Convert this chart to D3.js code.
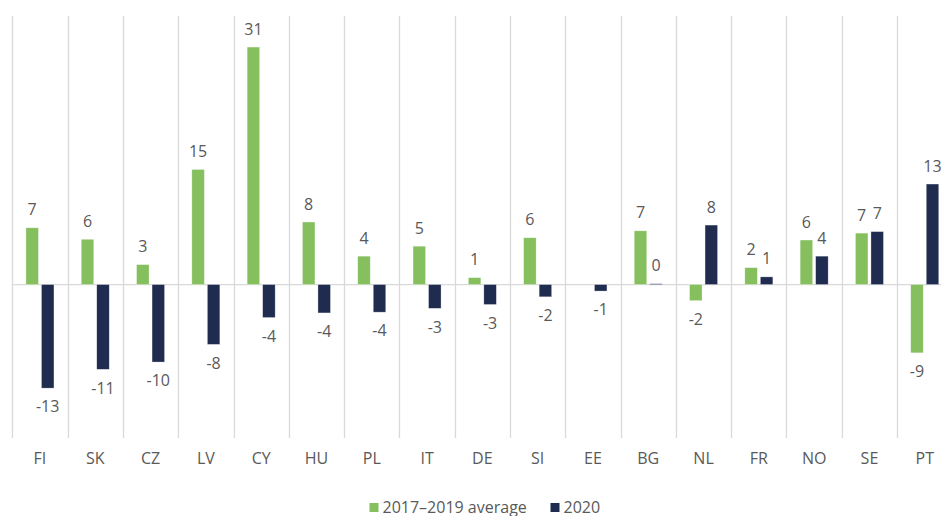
<!DOCTYPE html>
<html>
<head>
<meta charset="utf-8">
<script src="https://cdn.jsdelivr.net/npm/d3@7"></script>
<style>
  body { margin: 0; background: #fff; }
  text { font-family: "Open Sans", "Noto Sans", sans-serif; fill: #595959; }
</style>
</head>
<body>
<script>
const width = 941;
const height = 516;

const countries = ['FI', 'SK', 'CZ', 'LV', 'CY', 'HU', 'PL', 'IT', 'DE', 'SI', 'EE', 'BG', 'NL', 'FR', 'NO', 'SE', 'PT'];
const avg = [7.4, 5.9, 2.6, 15.0, 30.95, 8.15, 3.7, 5.0, 0.9, 6.1, null, 7.0, -2.1, 2.2, 5.8, 6.7, -8.9];
const y2020 = [-13.5, -11.05, -10.1, -7.8, -4.3, -3.7, -3.6, -3.1, -2.6, -1.6, -0.85, 0.1, 7.75, 1.0, 3.7, 6.9, 13.1];
const seriesNames = ['2017\u20132019 average', '2020'];
const colors = ['#85bf5e', '#1f2c50'];

const svg = d3.select('body')
  .append('svg')
  .attr('width', width)
  .attr('height', height);

const x = d3.scaleBand()
  .domain(countries)
  .range([12.3, 12.3 + 17 * 55.3]);

const x1 = d3.scaleBand()
  .domain([0, 1])
  .range([0, x.bandwidth()])
  .paddingInner(0.194)
  .paddingOuter(0.88);

const y = d3.scaleLinear()
  .domain([-20, 35])
  .range([438, 16]);

// vertical grid at category boundaries
svg.append('g')
  .selectAll('line')
  .data(countries.concat(['end']))
  .join('line')
  .attr('x1', (d, i) => Math.round(x.range()[0] + i * x.step()) + 0.5)
  .attr('x2', (d, i) => Math.round(x.range()[0] + i * x.step()) + 0.5)
  .attr('y1', y(35))
  .attr('y2', y(-20))
  .attr('stroke', '#d9d9d9')
  .attr('stroke-width', 1.3);

// zero line
svg.append('line')
  .attr('x1', x.range()[0])
  .attr('x2', x.range()[1])
  .attr('y1', y(0))
  .attr('y2', y(0))
  .attr('stroke', '#d9d9d9')
  .attr('stroke-width', 1.3);

const rows = [];
countries.forEach((c, i) => {
  [avg[i], y2020[i]].forEach((v, s) => {
    if (v !== null) rows.push({ c, s, v });
  });
});

svg.append('g')
  .selectAll('rect')
  .data(rows)
  .join('rect')
  .attr('x', d => x(d.c) + x1(d.s))
  .attr('width', x1.bandwidth())
  .attr('y', d => y(Math.max(0, d.v)))
  .attr('height', d => Math.abs(y(d.v) - y(0)))
  .attr('fill', d => colors[d.s])
  .attr('stroke', '#ffffff')
  .attr('stroke-opacity', 0.5)
  .attr('stroke-width', 0.6);

svg.append('g')
  .selectAll('text')
  .data(rows)
  .join('text')
  .attr('x', d => x(d.c) + x1(d.s) + x1.bandwidth() / 2)
  .attr('y', d => d.v >= 0 ? y(d.v) - 12.5 : y(d.v) + 24.3)
  .attr('text-anchor', 'middle')
  .attr('font-size', 16)
  .text(d => Math.round(d.v));

// category axis
const xAxis = svg.append('g')
  .attr('transform', `translate(0,${y(-20)})`)
  .call(d3.axisBottom(x).tickSize(0).tickPadding(0));
xAxis.select('.domain').remove();
xAxis.selectAll('text')
  .attr('dy', null)
  .attr('y', 26)
  .attr('font-size', 16)
  .style('font-family', '"Open Sans", "Noto Sans", sans-serif')
  .attr('fill', '#595959');

// legend
const legendX = [369.5, 550.5];
const legend = svg.append('g')
  .selectAll('g')
  .data(seriesNames)
  .join('g')
  .attr('transform', (d, i) => `translate(${legendX[i]},0)`);
legend.append('rect')
  .attr('x', 0)
  .attr('y', 503)
  .attr('width', 9)
  .attr('height', 9)
  .attr('fill', (d, i) => colors[i]);
legend.append('text')
  .attr('x', 13)
  .attr('y', 513)
  .attr('font-size', 16)
  .text(d => d);
</script>
</body>
</html>
